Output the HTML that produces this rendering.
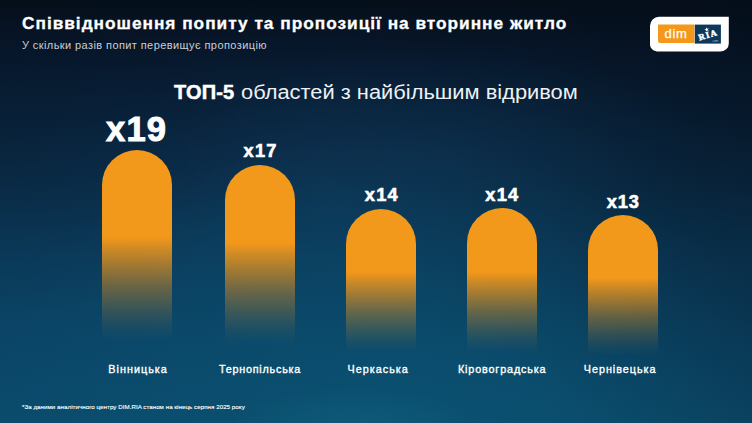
<!DOCTYPE html>
<html>
<head>
<meta charset="utf-8">
<style>
html,body{margin:0;padding:0;}
body{width:752px;height:423px;overflow:hidden;position:relative;font-family:"Liberation Sans",sans-serif;
background:radial-gradient(ellipse 130px 45px at 355px 432px,rgba(30,130,150,0.22),rgba(30,130,150,0) 100%),radial-gradient(ellipse 420px 290px at 380px 425px,rgba(10,92,122,0.38),rgba(10,92,122,0) 100%),radial-gradient(ellipse 440px 320px at 100% 28%,rgba(2,8,16,0.3),rgba(2,8,16,0) 100%),linear-gradient(90deg,rgba(2,8,16,0) 72%,rgba(2,8,16,0.13) 100%),radial-gradient(ellipse 260px 170px at 0% 35%,rgba(3,10,20,0.18),rgba(3,10,20,0) 100%),radial-gradient(ellipse 260px 110px at 440px 150px,rgba(20,75,115,0.22),rgba(20,75,115,0) 100%),linear-gradient(180deg,#050f1b 0px,#07182d 55px,#0a2a46 150px,#0b3b5c 250px,#0a4567 340px,#0a4b6c 423px);}
.t{position:absolute;white-space:nowrap;line-height:1;}
#title{left:22px;top:15px;font-size:17.3px;font-weight:bold;color:#fff;letter-spacing:0.98px;-webkit-text-stroke:0.3px #fff;}
#sub{left:22px;top:39.5px;font-size:11px;color:#c9cfd5;letter-spacing:0.41px;}
#top5{left:174px;top:82px;font-size:20px;color:#fff;font-weight:bold;-webkit-text-stroke:0.5px #fff;letter-spacing:0.2px;}
#top5r{left:241px;top:82px;font-size:20px;color:#eef1f4;transform-origin:0 0;transform:scaleX(1.093);}
.bar{position:absolute;width:70px;border-radius:35px 35px 0 0;}
.val{position:absolute;color:#fff;font-weight:bold;text-align:center;width:120px;line-height:1;-webkit-text-stroke:0.5px #fff;}
.lab{position:absolute;color:#fff;font-weight:normal;-webkit-text-stroke:0.35px #fff;font-size:10.8px;text-align:center;width:120px;line-height:1;top:364px;}
#foot{left:22px;top:404.3px;font-size:6.2px;color:#fff;letter-spacing:0.04px;-webkit-text-stroke:0.12px #fff;}
</style>
</head>
<body>
<div id="title" class="t">Співвідношення попиту та пропозиції на вторинне житло</div>
<div id="sub" class="t">У скільки разів попит перевищує пропозицію</div>
<div id="top5" class="t">ТОП-5</div><div id="top5r" class="t">областей з найбільшим відривом</div>

<div class="bar" id="b1" style="left:102px;top:150px;height:190px;background:linear-gradient(180deg,#f2981a 0px,rgba(242,152,26,1.00) 87.0px,rgba(242,152,26,0.84) 99.4px,rgba(242,152,26,0.62) 117.9px,rgba(242,152,26,0.39) 138.5px,rgba(242,152,26,0.20) 159.1px,rgba(242,152,26,0.08) 174.6px,rgba(242,152,26,0.00) 190.0px);"></div>
<div class="bar" id="b2" style="left:225px;top:165px;height:179px;background:linear-gradient(180deg,#f2981a 0px,rgba(242,152,26,1.00) 78.0px,rgba(242,152,26,0.84) 90.1px,rgba(242,152,26,0.62) 108.3px,rgba(242,152,26,0.39) 128.5px,rgba(242,152,26,0.20) 148.7px,rgba(242,152,26,0.08) 163.8px,rgba(242,152,26,0.00) 179.0px);"></div>
<div class="bar" id="b3" style="left:346px;top:209px;height:143px;background:linear-gradient(180deg,#f2981a 0px,rgba(242,152,26,1.00) 63.0px,rgba(242,152,26,0.84) 72.6px,rgba(242,152,26,0.62) 87.0px,rgba(242,152,26,0.39) 103.0px,rgba(242,152,26,0.20) 119.0px,rgba(242,152,26,0.08) 131.0px,rgba(242,152,26,0.00) 143.0px);"></div>
<div class="bar" id="b4" style="left:467px;top:208px;height:144px;background:linear-gradient(180deg,#f2981a 0px,rgba(242,152,26,1.00) 64.0px,rgba(242,152,26,0.84) 73.6px,rgba(242,152,26,0.62) 88.0px,rgba(242,152,26,0.39) 104.0px,rgba(242,152,26,0.20) 120.0px,rgba(242,152,26,0.08) 132.0px,rgba(242,152,26,0.00) 144.0px);"></div>
<div class="bar" id="b5" style="left:588px;top:215px;height:140px;background:linear-gradient(180deg,#f2981a 0px,rgba(242,152,26,1.00) 63.0px,rgba(242,152,26,0.84) 72.2px,rgba(242,152,26,0.62) 86.1px,rgba(242,152,26,0.39) 101.5px,rgba(242,152,26,0.20) 116.9px,rgba(242,152,26,0.08) 128.4px,rgba(242,152,26,0.00) 140.0px);"></div>

<div class="val" id="v1" style="left:76.58px;top:111.5px;font-size:34.5px;letter-spacing:1.15px;-webkit-text-stroke:1px #fff;">x19</div>
<div class="val" id="v2" style="left:200.65px;top:141.6px;font-size:18.2px;letter-spacing:1.3px;-webkit-text-stroke:0.6px #fff;">x17</div>
<div class="val" id="v3" style="left:321.85px;top:185.9px;font-size:18.2px;letter-spacing:1.3px;-webkit-text-stroke:0.6px #fff;">x14</div>
<div class="val" id="v4" style="left:442.40px;top:186.2px;font-size:18.2px;letter-spacing:1.3px;-webkit-text-stroke:0.6px #fff;">x14</div>
<div class="val" id="v5" style="left:563.30px;top:193.4px;font-size:18.2px;letter-spacing:0.9px;-webkit-text-stroke:0.6px #fff;">x13</div>

<div class="lab" id="l1" style="left:78.11px;letter-spacing:1.02px;">Вінницька</div>
<div class="lab" id="l2" style="left:199.99px;letter-spacing:0.77px;">Тернопільська</div>
<div class="lab" id="l3" style="left:318.25px;letter-spacing:1.01px;">Черкаська</div>
<div class="lab" id="l4" style="left:442.18px;letter-spacing:0.86px;">Кіровоградська</div>
<div class="lab" id="l5" style="left:560.13px;letter-spacing:0.96px;">Чернівецька</div>

<div id="foot" class="t">*За даними аналітичного центру DIM.RIA станом на кінець серпня 2025 року</div>

<svg id="logo" style="position:absolute;left:645px;top:12px;" width="90" height="45" viewBox="645 12 90 45">
<path d="M659 16.8H728.8V43.4A8 8 0 0 1 720.8 51.4H657A7 7 0 0 1 650 44.4V25.8A9 9 0 0 1 659 16.8Z" fill="#fff"/>
<path d="M658 24.6H694.4V43H660.5A2.5 2.5 0 0 1 658 40.5Z" fill="#f4981c"/>
<rect x="694.8" y="24.6" width="26.1" height="19" fill="#0d385a"/>
<text x="664.6" y="37.6" font-family="Liberation Sans" font-size="13" letter-spacing="0.7" fill="#fff" stroke="#fff" stroke-width="0.25">dim</text>
<text x="699.4" y="40.6" transform="rotate(-17 699.4 40.6)" font-family="Liberation Serif" font-weight="bold" font-size="8.8" letter-spacing="1.25" fill="#fff" stroke="#fff" stroke-width="0.45">RIA</text>
<polygon points="706.18,27.28 707.16,28.67 708.82,28.30 707.80,29.65 708.66,31.11 707.06,30.57 705.94,31.84 705.96,30.14 704.40,29.47 706.02,28.97" fill="#fff"/>
<text x="712" y="42.2" font-family="Liberation Sans" font-size="2.8" fill="#b9c8d6">.com</text>
</svg>
</body>
</html>
